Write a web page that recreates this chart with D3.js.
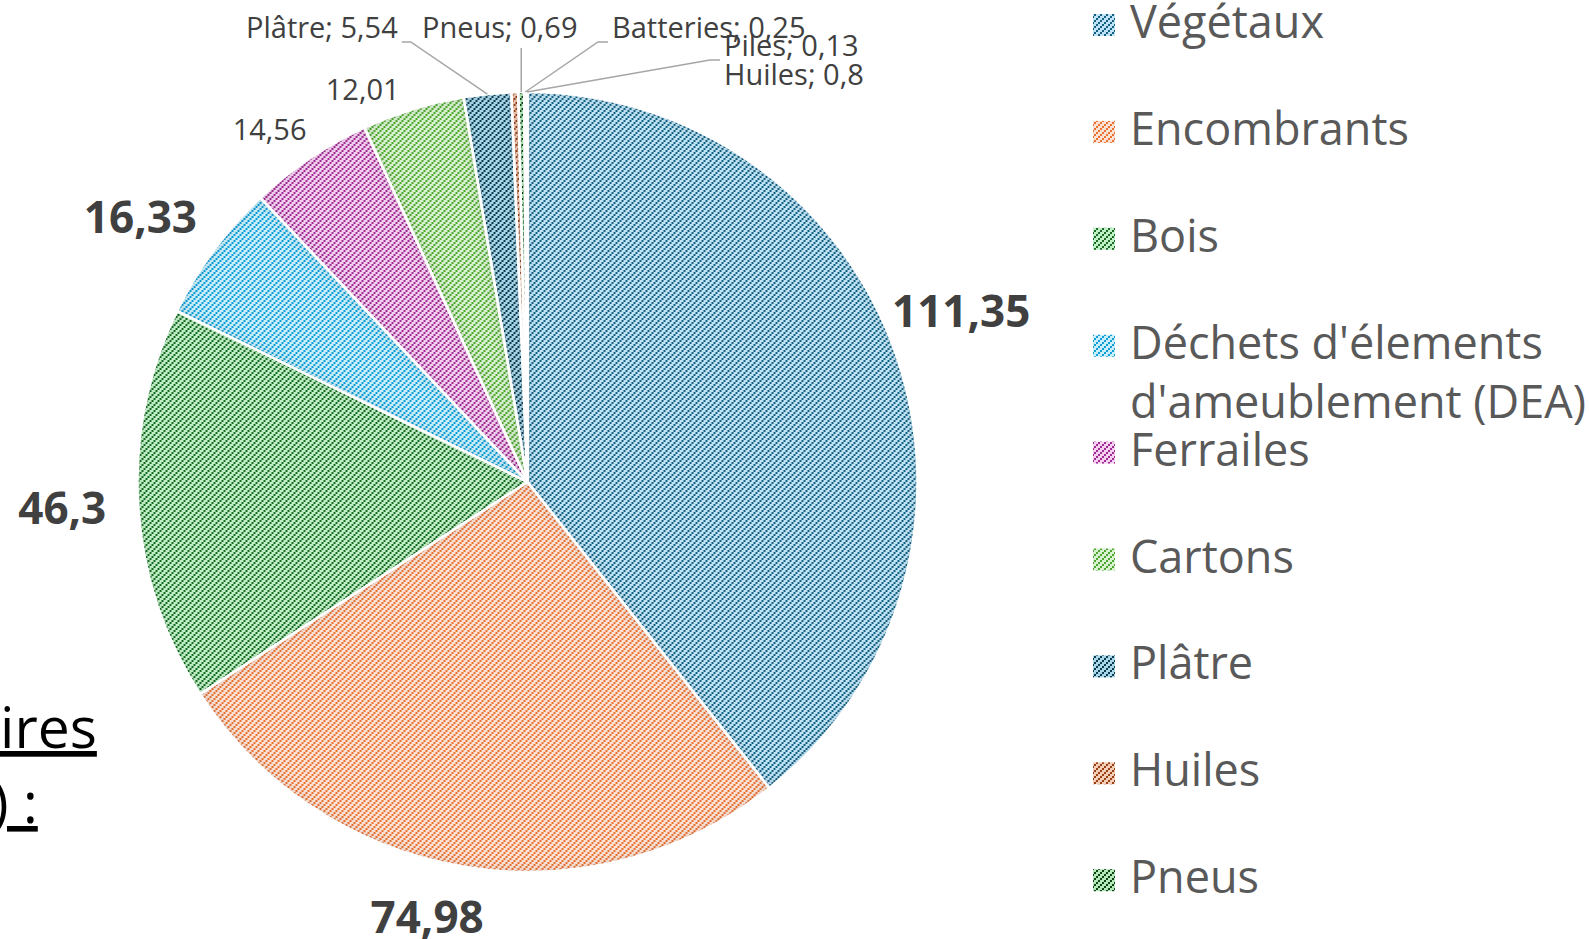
<!DOCTYPE html>
<html lang="fr">
<head>
<meta charset="utf-8">
<title>Déchetterie : tonnages par flux</title>
<script src="https://cdn.jsdelivr.net/npm/d3@7"></script>
<style>
  html, body { margin: 0; padding: 0; background: #fff; }
  svg { display: block; font-family: "Open Sans", sans-serif; }
</style>
</head>
<body>
<div id="chart"></div>
<script>
// --- data ---
var categories = ["Végétaux", "Encombrants", "Bois", "Déchets d'élements d'ameublement (DEA)",
                  "Ferrailes", "Cartons", "Plâtre", "Huiles", "Pneus", "Batteries", "Piles"];
var values = [111.35, 74.98, 46.3, 16.33, 14.56, 12.01, 5.54, 0.8, 0.69, 0.25, 0.13];
var legendLines = [["Végétaux"], ["Encombrants"], ["Bois"], ["Déchets d'élements", "d'ameublement (DEA)"],
                   ["Ferrailes"], ["Cartons"], ["Plâtre"], ["Huiles"], ["Pneus"]];

// pattern colours (line colour, background tint)
var fgColors = ["#156082", "#e97132", "#196b24", "#0f9ed5", "#a02b93", "#4ea72e",
                "#0d3a4e", "#974114", "#0f4115", "#095e80", "#611a58"];
var bgColors = ["#c0e4f5", "#fbe2d5", "#c1f0c8", "#caeefb", "#f5d1f1", "#d8f1d0",
                "#a9d7ea", "#f4cdb8", "#b3e9ba", "#b6e3f4", "#eec3e8"];

var W = 1589, H = 939;
var cx = 527.5, cy = 482, r = 390;

function fr(v) { return String(v).replace(".", ","); }

var svg = d3.select("#chart").append("svg")
  .attr("width", W).attr("height", H);

var defs = svg.append("defs");

// hatch patterns: "/" stripes made of 2px steps, 6px period
fgColors.forEach(function(c, i) {
  var p = defs.append("pattern")
    .attr("id", "hatch" + i)
    .attr("patternUnits", "userSpaceOnUse")
    .attr("width", 6).attr("height", 6);
  p.append("rect").attr("width", 6).attr("height", 6).attr("fill", bgColors[i]);
  [[0, 4], [2, 2], [4, 0]].forEach(function(s) {
    p.append("rect").attr("x", s[0]).attr("y", s[1]).attr("width", 2).attr("height", 2)
      .attr("fill", c).attr("shape-rendering", "crispEdges");
  });
});

// soft inner shading of each slice
var f = defs.append("filter").attr("id", "inner")
  .attr("x", "-10%").attr("y", "-10%").attr("width", "120%").attr("height", "120%");
f.append("feComponentTransfer").attr("in", "SourceAlpha").attr("result", "inv")
  .append("feFuncA").attr("type", "table").attr("tableValues", "1 0");
f.append("feGaussianBlur").attr("in", "inv").attr("stdDeviation", 7).attr("result", "blur");
f.append("feFlood").attr("flood-color", "#333").attr("flood-opacity", 0.3).attr("result", "col");
f.append("feComposite").attr("in", "col").attr("in2", "blur").attr("operator", "in").attr("result", "sh");
f.append("feComposite").attr("in", "sh").attr("in2", "SourceAlpha").attr("operator", "in").attr("result", "inner");
var fm = f.append("feMerge");
fm.append("feMergeNode").attr("in", "SourceGraphic");
fm.append("feMergeNode").attr("in", "inner");

var data = categories.map(function(c, i) { return { name: c, value: values[i], i: i }; });

var pie = d3.pie().sort(null).value(function(d) { return d.value; });
var arcs = pie(data);
var arc = d3.arc().innerRadius(0).outerRadius(r);
var edgeArc = d3.arc().innerRadius(r).outerRadius(r);

var g = svg.append("g").attr("transform", "translate(" + cx + "," + cy + ")");

g.selectAll("path.slice")
  .data(arcs)
  .enter().append("path")
  .attr("class", "slice")
  .attr("d", arc)
  .attr("fill", function(d) { return "url(#hatch" + d.data.i + ")"; })
  .attr("filter", "url(#inner)");

g.selectAll("path.border")
  .data(arcs)
  .enter().append("path")
  .attr("class", "border")
  .attr("d", arc)
  .attr("fill", "none")
  .attr("stroke", "#fff")
  .attr("stroke-width", 2.5)
  .attr("stroke-linejoin", "round");

// --- data labels around the pie (big ones bold) ---
// radius and small angle nudge (degrees) for each outside label
var labelRadius = [466, 447, 466, 469, 437, 426];
var labelNudge = [-2.3, 3.6, 0.2, -2.0, -2.2, -5.7];

arcs.slice(0, 6).forEach(function(d, i) {
  var mid = (d.startAngle + d.endAngle) / 2 + labelNudge[i] * Math.PI / 180;
  var pt = d3.pointRadial(mid, labelRadius[i]);
  var bold = i < 4;
  var fs = bold ? 44 : 29;
  g.append("text")
    .attr("x", pt[0])
    .attr("y", pt[1] + fs * 0.714 / 2)
    .attr("text-anchor", "middle")
    .attr("font-size", fs)
    .attr("font-weight", bold ? 700 : 400)
    .attr("fill", "#404040")
    .text(fr(d.data.value));
});

// --- callouts for the thin slices at the top ---
var callouts = [
  { name: "Plâtre",    x: 246, y: 38, side: "right" },
  { name: "Pneus",     x: 422, y: 38, side: "below" },
  { name: "Batteries", x: 612, y: 38, side: "left" },
  { name: "Piles",     x: 724, y: 56, side: "left" },
  { name: "Huiles",    x: 724, y: 85, side: "none" }
];

callouts.forEach(function(c) {
  var d = arcs.filter(function(a) { return a.data.name === c.name; })[0];
  var t = svg.append("text")
    .attr("x", c.x).attr("y", c.y)
    .attr("font-size", 29)
    .attr("fill", "#404040")
    .text(c.name + "; " + fr(d.data.value));
  var w = t.node().getComputedTextLength();
  var e = edgeArc.centroid(d);
  var ex = cx + e[0], ey = cy + e[1];
  var pts = null;
  if (c.side === "right") {
    pts = [[c.x + w + 4, c.y + 4], [c.x + w + 13, c.y + 4], [ex, ey]];
  } else if (c.side === "left") {
    pts = [[c.x - 4, c.y + 4], [c.x - 14, c.y + 4], [ex, ey]];
  } else if (c.side === "below") {
    pts = [[ex, c.y + 10], [ex, ey]];
  }
  if (pts) {
    svg.append("path")
      .attr("d", d3.line()(pts))
      .attr("fill", "none")
      .attr("stroke", "#a6a6a6")
      .attr("stroke-width", 1.5);
  }
});

// --- legend (first nine entries, the rest is cut off) ---
var legendX = 1093, legendTop = 38, legendStep = 106.9;
var lg = svg.append("g");
legendLines.forEach(function(lines, i) {
  var base = legendTop + i * legendStep;
  lg.append("rect")
    .attr("x", legendX).attr("y", base - 24)
    .attr("width", 22).attr("height", 22)
    .attr("fill", "url(#hatch" + i + ")");
  lines.forEach(function(l, j) {
    lg.append("text")
      .attr("x", legendX + 37)
      .attr("y", base + j * 59)
      .attr("font-size", 45)
      .attr("fill", "#595959")
      .text(l);
  });
});

// --- bits of the surrounding document text, cut by the page edge ---
svg.append("text")
  .attr("x", 0).attr("y", 748)
  .attr("font-size", 57)
  .attr("fill", "#000")
  .attr("text-decoration", "underline")
  .text("ires");
svg.append("text")
  .attr("x", -8).attr("y", 823)
  .attr("font-size", 56)
  .attr("fill", "#000")
  .attr("text-decoration", "underline")
  .text(") :");
</script>
</body>
</html>
